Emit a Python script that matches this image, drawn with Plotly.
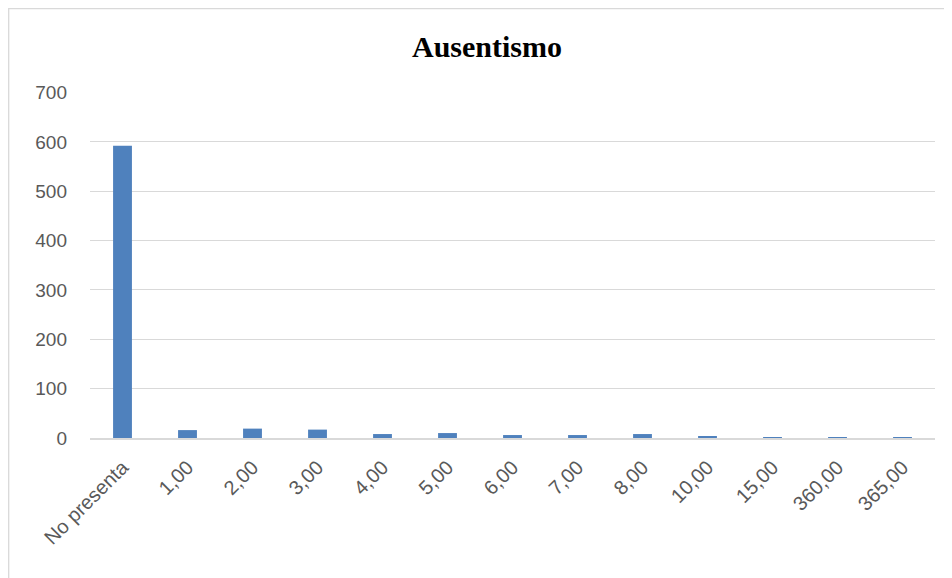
import plotly.graph_objects as go

categories = ["No presenta", "1,00", "2,00", "3,00", "4,00", "5,00", "6,00", "7,00", "8,00", "10,00", "15,00", "360,00", "365,00"]
counts = [592, 16, 19, 17, 8, 10, 6, 6, 8, 4, 2, 2, 2]
y_ticks = [0, 100, 200, 300, 400, 500, 600, 700]

OFF = 8  # default page body margin
W, H = 952 - OFF, 578 - OFF
ml, mr, mt, mb = 90 - OFF, 17, 92 - OFF, 140
pw, ph = W - ml - mr, H - mt - mb

def px_x(p):
    return (p - OFF - ml) / pw

def px_y(p):
    return (H - mb - (p - OFF)) / ph

fig = go.Figure(go.Bar(x=categories, y=counts, marker=dict(color="#4f81bd", line=dict(width=0))))

fig.update_layout(
    width=W, height=H,
    margin=dict(l=ml, r=mr, t=mt, b=mb),
    paper_bgcolor="white", plot_bgcolor="white",
    bargap=0.71,
    showlegend=False,
    title=dict(text="<b>Ausentismo</b>", x=px_x(487), xref="paper", xanchor="center",
               y=1 - (46 - OFF) / H, yanchor="middle",
               font=dict(family="Liberation Serif", size=30, color="black")),
    xaxis=dict(tickangle=-45, tickfont=dict(family="Liberation Sans", size=20, color="#595959"),
               showline=True, linecolor="#d9d9d9", linewidth=1.5, ticks="", showgrid=False,
               ticklabelstandoff=8),
    yaxis=dict(range=[0, 701], tickvals=y_ticks, tickfont=dict(family="Liberation Sans", size=19, color="#595959"),
               showgrid=True, gridcolor="#d9d9d9", gridwidth=1.2, zeroline=False, showline=False,
               ticks="", ticklabelstandoff=22),
    shapes=[dict(type="rect", xref="paper", yref="paper",
                 x0=px_x(8.7), x1=px_x(970), y0=px_y(600), y1=px_y(8.7),
                 line=dict(color="#d9d9d9", width=1.3), layer="below")],
)

fig.write_html("out.html")
